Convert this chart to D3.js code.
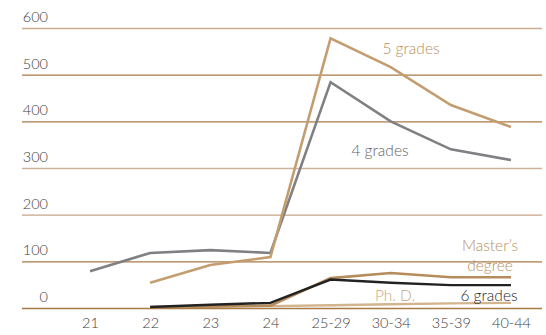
<!DOCTYPE html>
<html>
<head>
<meta charset="utf-8">
<script src="https://cdn.jsdelivr.net/npm/d3@7"></script>
<style>
  html, body { margin: 0; padding: 0; background: #fff; }
  svg { display: block; font-family: Lato, "Open Sans", sans-serif; font-weight: 300; }
</style>
</head>
<body>
<svg id="chart" width="546" height="335"></svg>
<script>
// Age groups along the x axis
const categories = ["21", "22", "23", "24", "25-29", "30-34", "35-39", "40-44"];

// Series values per age group (null = no value)
const grades4  = [79, 118, 124, 118, 484, 400, 340, 317];
const grades5  = [null, 54, 92, 109, 578, 516, 435, 388];
const masters  = [null, 2, 3, 5, 64, 75, 66, 66];
const grades6  = [null, 2, 7, 11, 61, 54, 49, 49];
const phd      = [null, null, null, 4, 6, 8, 10, 11];

const yTicks = [0, 100, 200, 300, 400, 500, 600];
const gridColors = ["#a87a45", "#a87a45", "#c7a584", "#cdb298", "#a87a45", "#a87a45", "#c9ab8e"];

const svg = d3.select("#chart");
const plotLeft = 22, plotRight = 542, plotTop = 28, plotBottom = 308;

const x = d3.scalePoint().domain(categories).range([90, 511]);
const y = d3.scaleLinear().domain([0, 600]).range([plotBottom, plotTop]);

// Gridlines
svg.append("g").selectAll("line").data(yTicks).join("line")
  .attr("x1", plotLeft).attr("x2", plotRight)
  .attr("y1", d => y(d) + 0.5).attr("y2", d => y(d) + 0.5)
  .attr("stroke", (d, i) => gridColors[i]).attr("stroke-width", 1.3);

// Y tick labels, sitting above each gridline
svg.append("g").selectAll("text").data(yTicks).join("text")
  .attr("x", 48).attr("y", d => y(d) - 6)
  .attr("text-anchor", "end")
  .attr("font-size", 14.5).attr("fill", "#3c3c3c")
  .text(d => d);

// X axis labels
const xAxis = d3.axisBottom(x).tickSize(0).tickPadding(0);
const gx = svg.append("g").attr("transform", `translate(0,${plotBottom + 10})`).call(xAxis);
gx.select(".domain").remove();
gx.selectAll("text").attr("font-size", 14.5).attr("fill", "#3c3c3c")
  .attr("font-family", "Lato, \"Open Sans\", sans-serif")
  .attr("font-weight", 300)
  .attr("dy", "0.71em");

const line = d3.line()
  .defined(d => d != null)
  .x((d, i) => x(categories[i]))
  .y(d => y(d));

const series = [
  { values: phd,     color: "#d2b48f", width: 2.4 },
  { values: masters, color: "#b58c5c", width: 2.6 },
  { values: grades6, color: "#222222", width: 2.4 },
  { values: grades4, color: "#808084", width: 2.6 },
  { values: grades5, color: "#c39d70", width: 2.6 }
];

svg.append("g").selectAll("path").data(series).join("path")
  .attr("fill", "none")
  .attr("stroke", d => d.color)
  .attr("stroke-width", d => d.width)
  .attr("stroke-linejoin", "miter")
  .attr("d", d => line(d.values));

// Series labels
const labels = [
  { text: ["5 grades"], x: 411, y: 54, color: "#b98f5e" },
  { text: ["4 grades"], x: 380, y: 156, color: "#626266" },
  { text: ["Master\u2019s", "degree"], x: 490, y: 251, color: "#b98f5e" },
  { text: ["Ph. D."], x: 395, y: 301, color: "#c9a67f" },
  { text: ["6 grades"], x: 489, y: 301, color: "#1e1e1e" }
];
const lg = svg.append("g").selectAll("text").data(labels).join("text")
  .attr("text-anchor", "middle")
  .attr("font-size", 15.5).attr("fill", d => d.color);
lg.each(function(d) {
  d3.select(this).selectAll("tspan").data(d.text).join("tspan")
    .attr("x", d.x).attr("y", (t, i) => d.y + i * 20)
    .text(t => t);
});
</script>
</body>
</html>
